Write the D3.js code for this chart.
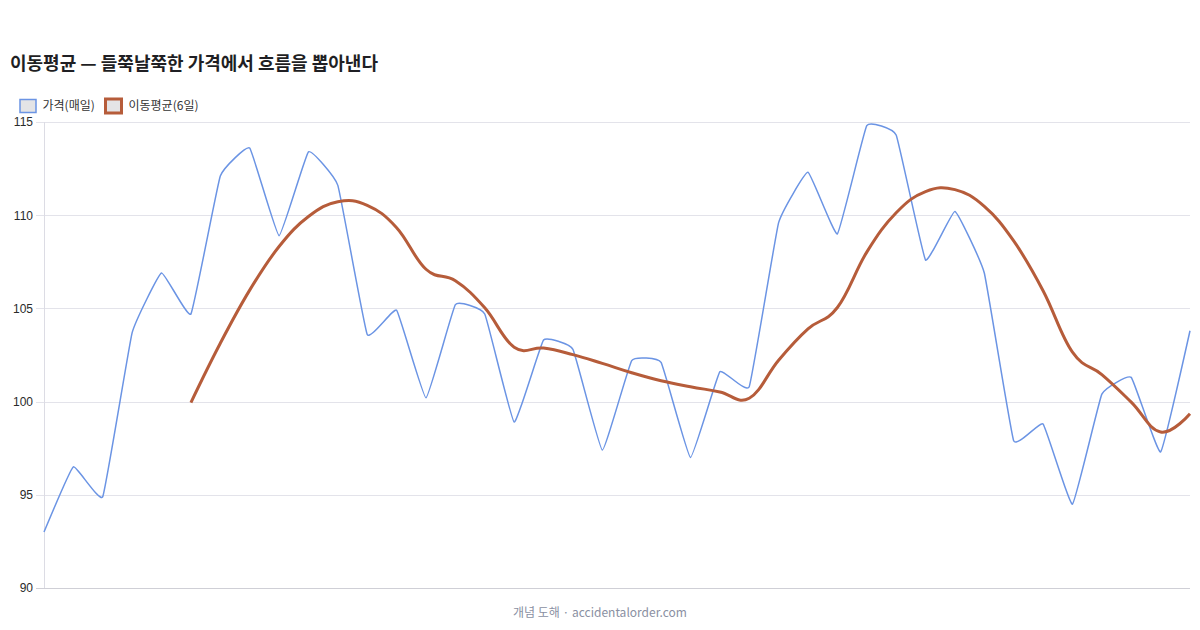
<!DOCTYPE html>
<html>
<head>
<meta charset="utf-8">
<script src="https://cdn.jsdelivr.net/npm/d3@7"></script>
<style>
  html, body { margin: 0; padding: 0; background: #ffffff; }
  svg { display: block; }
</style>
</head>
<body>
<svg id="chart" width="1200" height="630"></svg>
<script>
// ---- data ----
const days = d3.range(1, 41);
const price = [
  93.0, 96.5, 94.9, 103.7, 106.9, 104.7, 112.1, 113.6, 108.9, 113.4,
  111.6, 103.6, 104.9, 100.2, 105.2, 104.7, 98.9, 103.3, 102.8, 97.4,
  102.2, 102.1, 97.0, 101.6, 100.8, 109.6, 112.3, 109.0, 114.8, 114.3,
  107.6, 110.2, 106.9, 97.9, 98.8, 94.5, 100.4, 101.3, 97.3, 103.8
];
const movingAvg = [
  null, null, null, null, null, 99.95, 103.13, 105.98, 108.32, 109.93,
  110.72, 110.53, 109.33, 107.10, 106.48, 105.03, 102.92, 102.87, 102.52, 102.05,
  101.55, 101.12, 100.80, 100.52, 100.18, 102.22, 103.90, 105.05, 108.02, 110.13,
  111.27, 111.37, 110.47, 108.62, 105.95, 102.65, 101.45, 99.97, 98.37, 99.35
];
const yTicks = [90, 95, 100, 105, 110, 115];
const seriesNames = ["가격(매일)", "이동평균(6일)"];
const titleText = "이동평균 — 들쭉날쭉한 가격에서 흐름을 뽑아낸다";
const footerText = "개념 도해 · accidentalorder.com";

// ---- layout ----
const svg = d3.select("#chart");
const plotL = 44, plotR = 1190, plotT = 122, plotB = 588;
const blue = "#6b94e4";
const brown = "#b65c3a";
const fontLatin = "'Liberation Sans', Arial, 'Noto Sans CJK KR', sans-serif";
const fontKR = "'Noto Sans CJK KR', 'Noto Sans', sans-serif";

const x = d3.scaleLinear().domain([0, days.length - 1]).range([plotL, plotR]);
const y = d3.scaleLinear().domain([90, 115]).range([plotB, plotT]);

// title
svg.append("text")
  .attr("x", 10).attr("y", 70)
  .attr("font-family", fontKR)
  .attr("font-size", 18)
  .attr("font-weight", 700)
  .attr("fill", "#1f1f24")
  .text(titleText);

// legend
const legend = svg.append("g");
legend.append("rect").attr("x", 20).attr("y", 99.5).attr("width", 16).attr("height", 13)
  .attr("fill", "#e4e4e6").attr("stroke", blue).attr("stroke-width", 1.5);
legend.append("text").attr("x", 42.5).attr("y", 109.5)
  .attr("font-family", fontKR).attr("font-size", 12).attr("fill", "#333")
  .text(seriesNames[0]);
legend.append("rect").attr("x", 105.5).attr("y", 99).attr("width", 16).attr("height", 14)
  .attr("fill", "#e4e4e6").attr("stroke", brown).attr("stroke-width", 3);
legend.append("text").attr("x", 128.5).attr("y", 109.5)
  .attr("font-family", fontKR).attr("font-size", 12).attr("fill", "#333")
  .text(seriesNames[1]);

// y axis with grid
const yAxis = d3.axisLeft(y).tickValues(yTicks).tickSize(plotR - plotL + 8).tickPadding(3).tickFormat(d3.format("d"));
const gy = svg.append("g").attr("transform", `translate(${plotR},0)`).call(yAxis);
gy.select(".domain").remove();
gy.selectAll(".tick line")
  .attr("stroke", d => d === 90 ? "#cfcfd6" : "#e3e3ea")
  .attr("stroke-width", 1)
  .attr("shape-rendering", "crispEdges");
gy.selectAll(".tick text")
  .attr("font-family", fontLatin)
  .attr("font-size", 12)
  .attr("fill", "#2a2a2a");

// left axis line
svg.append("line")
  .attr("x1", plotL).attr("x2", plotL).attr("y1", plotT).attr("y2", plotB)
  .attr("stroke", "#dcdce4").attr("stroke-width", 1)
  .attr("shape-rendering", "crispEdges");

// lines
const priceLine = d3.line()
  .x((d, i) => x(i)).y(d => y(d))
  .curve(d3.curveCardinal.tension(0.7));
svg.append("path")
  .datum(price)
  .attr("d", priceLine)
  .attr("fill", "none")
  .attr("stroke", blue)
  .attr("stroke-width", 1.5)
  .attr("stroke-linejoin", "round");

const maData = movingAvg.map((v, i) => ({ i, v })).filter(d => d.v !== null);
const maLine = d3.line()
  .x(d => x(d.i)).y(d => y(d.v))
  .curve(d3.curveCardinal.tension(-0.2));
svg.append("path")
  .datum(maData)
  .attr("d", maLine)
  .attr("fill", "none")
  .attr("stroke", brown)
  .attr("stroke-width", 3)
  .attr("stroke-linejoin", "round");

// footer
svg.append("text")
  .attr("x", 600).attr("y", 616.5)
  .attr("text-anchor", "middle")
  .attr("font-family", fontKR)
  .attr("font-size", 12)
  .attr("fill", "#8a90a2")
  .text(footerText);
</script>
</body>
</html>
